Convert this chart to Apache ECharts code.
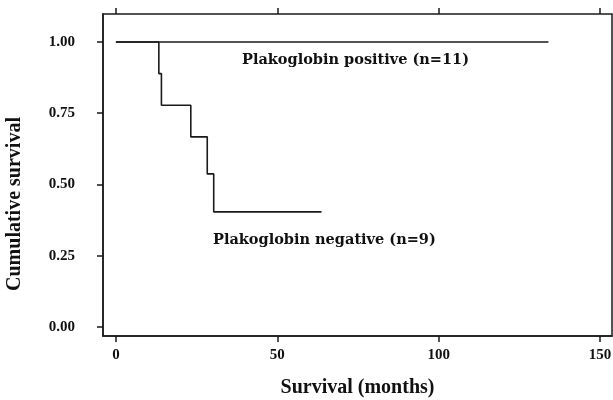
<!DOCTYPE html>
<html>
<head>
<meta charset="utf-8">
<script src="https://cdn.jsdelivr.net/npm/echarts@6/dist/echarts.min.js"></script>
<style>html,body{margin:0;padding:0;background:#fff;}#c{width:613px;height:400px;}</style>
</head>
<body>
<div id="c"></div>
<script>
// Kaplan-Meier data
const timesPos = [0, 134];
const survPos = [1.0, 1.0];
const timesNeg = [0, 13.3, 14.1, 23.2, 28.3, 30.3, 63.7];
const survNeg = [1.0, 0.889, 0.778, 0.667, 0.537, 0.404, 0.404];
const xTicks = [0, 50, 100, 150];
const yTicks = [0, 0.25, 0.5, 0.75, 1.0];
const labelPos = 'Plakoglobin positive (n=11)';
const labelNeg = 'Plakoglobin negative (n=9)';
const yTitle = 'Cumulative survival';
const xTitle = 'Survival (months)';

const pos = timesPos.map((t, i) => [t, survPos[i]]);
const neg = timesNeg.map((t, i) => [t, survNeg[i]]);

const chart = echarts.init(document.getElementById('c'));
const serif = '"Liberation Serif", "Times New Roman", serif';
const lineCol = '#1a1a1a';
chart.setOption({
  animation: false,
  backgroundColor: '#fff',
  grid: { left: 103, top: 14, right: 1, bottom: 64, show: true, borderColor: lineCol, borderWidth: 1.5, backgroundColor: 'transparent', containLabel: false, outerBoundsMode: 'none' },
  xAxis: [{
    type: 'value', min: -4, max: 153.7, position: 'bottom',
    splitLine: { show: false },
    axisLine: { show: true, onZero: false, lineStyle: { color: lineCol, width: 1.5 } },
    axisTick: { show: true, length: 6, inside: false, customValues: xTicks, lineStyle: { color: lineCol, width: 1.5 } },
    axisLabel: { customValues: xTicks, margin: 12, fontFamily: serif, fontWeight: 'bold', fontSize: 15, color: '#111' },
    name: xTitle, nameLocation: 'middle', nameGap: 42,
    nameTextStyle: { fontFamily: serif, fontWeight: 'bold', fontSize: 20, color: '#111' }
  }, {
    type: 'value', min: -4, max: 153.7, position: 'top',
    splitLine: { show: false },
    axisLine: { show: false, onZero: false },
    axisTick: { show: true, length: 6, inside: false, customValues: xTicks, lineStyle: { color: lineCol, width: 1.5 } },
    axisLabel: { show: false }
  }],
  yAxis: [{
    type: 'value', min: -0.0316, max: 1.098,
    splitLine: { show: false },
    axisLine: { show: true, onZero: false, lineStyle: { color: lineCol, width: 1.5 } },
    axisTick: { show: true, length: 6, inside: false, customValues: yTicks, lineStyle: { color: lineCol, width: 1.5 } },
    axisLabel: { customValues: yTicks, margin: 28, fontFamily: serif, fontWeight: 'bold', fontSize: 15, color: '#111', formatter: v => v.toFixed(2) }
  }],
  series: [{
    type: 'line', data: pos, step: 'end', symbol: 'none',
    lineStyle: { color: lineCol, width: 1.6 }
  }, {
    type: 'line', data: neg, step: 'end', symbol: 'none',
    lineStyle: { color: lineCol, width: 1.6 }
  }],
  graphic: [{
    type: 'text', left: 242, top: 53,
    style: { text: labelPos, fontFamily: '"DejaVu Serif", serif', fontWeight: 'bold', fontSize: 14.5, fill: '#111' }
  }, {
    type: 'text', left: 213, top: 233,
    style: { text: labelNeg, fontFamily: '"DejaVu Serif", serif', fontWeight: 'bold', fontSize: 14.5, fill: '#111' }
  }, {
    type: 'text', x: 15, y: 204, rotation: Math.PI / 2,
    style: { text: yTitle, fontFamily: serif, fontWeight: 'bold', fontSize: 20, fill: '#111', align: 'center', verticalAlign: 'middle' }
  }]
});
</script>
</body>
</html>
